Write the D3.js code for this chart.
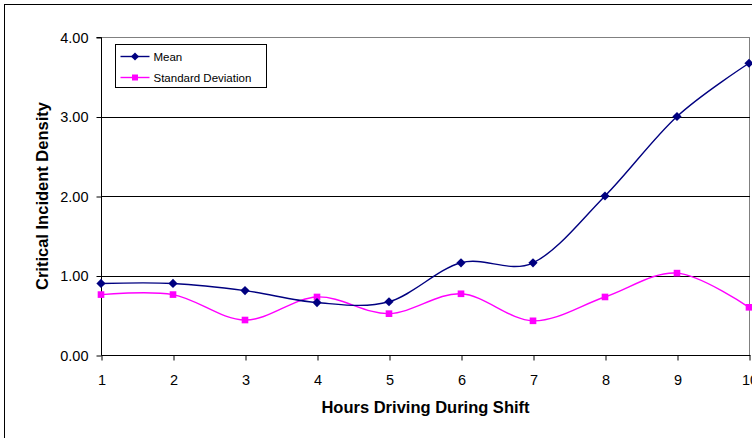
<!DOCTYPE html>
<html>
<head>
<meta charset="utf-8">
<script src="https://cdn.jsdelivr.net/npm/d3@7/dist/d3.min.js"></script>
<style>
  html, body { margin: 0; padding: 0; background: #fff; }
  svg { display: block; font-family: "Liberation Sans", Arial, sans-serif; }
</style>
</head>
<body>
<svg id="chart" width="752" height="438"></svg>
<script>
// Hours of driving within a shift
const hours = [1, 2, 3, 4, 5, 6, 7, 8, 9, 10];
// Critical incident density per hour
const meanValues = [0.90, 0.90, 0.81, 0.66, 0.67, 1.16, 1.16, 2.00, 3.00, 3.67];
const sdValues   = [0.76, 0.76, 0.44, 0.73, 0.52, 0.77, 0.43, 0.73, 1.03, 0.60];
const yTicks = [0, 1, 2, 3, 4];
const seriesNames = ["Mean", "Standard Deviation"];

const svg = d3.select("#chart");
const W = 752, H = 438;
const plot = { left: 101, right: 750, top: 37, bottom: 355 };
const FONT = "'Liberation Sans', Arial, sans-serif";

// Outer chart frame (extends past the right and bottom edges)
svg.append("rect")
  .attr("x", 4.5).attr("y", 4.5)
  .attr("width", 800).attr("height", 500)
  .attr("fill", "#fff").attr("stroke", "#000").attr("stroke-width", 1);

const x = d3.scaleLinear().domain([1, 10]).range([plot.left, plot.right - 1]);
const y = d3.scaleLinear().domain([0, 4]).range([plot.bottom, plot.top]);

// Plot area border
svg.append("rect")
  .attr("x", plot.left + 0.5).attr("y", plot.top + 0.5)
  .attr("width", plot.right - plot.left - 1).attr("height", plot.bottom - plot.top)
  .attr("fill", "#fff").attr("stroke", "#808080").attr("stroke-width", 1);

// Horizontal gridlines
svg.append("g")
  .selectAll("line")
  .data(yTicks.filter(d => d > 0 && d < 4))
  .join("line")
  .attr("x1", plot.left).attr("x2", plot.right)
  .attr("y1", d => Math.round(y(d)) + 0.5).attr("y2", d => Math.round(y(d)) + 0.5)
  .attr("stroke", "#000").attr("stroke-width", 1);

// Y axis
const yAxis = d3.axisLeft(y).tickValues(yTicks).tickSize(5).tickPadding(8)
  .tickFormat(d3.format(".2f"));
const gy = svg.append("g").attr("transform", `translate(${plot.left + 0.5},0.5)`).call(yAxis);
gy.select(".domain").attr("stroke", "#000").attr("d", `M-5,${plot.top}H0V${plot.bottom}`);
gy.selectAll(".tick line").attr("stroke", "#000");
gy.selectAll(".tick text").attr("font-size", 14.5).attr("fill", "#000")
  .attr("font-family", FONT);

// X axis
const xAxis = d3.axisBottom(x).tickValues(hours).tickSize(5).tickPadding(14)
  .tickFormat(d3.format("d"));
const gx = svg.append("g").attr("transform", `translate(0.5,${plot.bottom + 0.5})`).call(xAxis);
gx.select(".domain").attr("stroke", "#000").attr("d", `M${plot.left},0H${plot.right}`);
gx.selectAll(".tick line").attr("stroke", "#000");
gx.selectAll(".tick text").attr("font-size", 14.5).attr("fill", "#000")
  .attr("font-family", FONT);

// Axis titles
svg.append("text")
  .attr("x", (plot.left + plot.right) / 2).attr("y", 413)
  .attr("text-anchor", "middle")
  .attr("font-size", 16.5).attr("font-weight", "bold")
  .attr("font-family", FONT)
  .text("Hours Driving During Shift");

svg.append("text")
  .attr("transform", `translate(48,${(plot.top + plot.bottom) / 2}) rotate(-90)`)
  .attr("text-anchor", "middle")
  .attr("font-size", 16.5).attr("font-weight", "bold")
  .attr("font-family", FONT)
  .text("Critical Incident Density");

// Smoothed series lines
const line = d3.line().curve(d3.curveCardinal.tension(0))
  .x((d, i) => x(hours[i])).y(d => y(d));

const series = [
  { name: seriesNames[0], values: meanValues, color: "#000080", symbol: d3.symbolDiamond2 },
  { name: seriesNames[1], values: sdValues, color: "#FF00FF", symbol: d3.symbolSquare }
];

svg.append("defs").append("clipPath").attr("id", "plotclip")
  .append("rect").attr("x", plot.left - 10).attr("y", 0)
  .attr("width", W - plot.left + 10).attr("height", H);

const marks = svg.append("g").attr("clip-path", "url(#plotclip)");

const symbolPath = (s, big) => s.symbol === d3.symbolSquare
  ? d3.symbol(d3.symbolSquare, big ? 44 : 36)()
  : d3.symbol(d3.symbolDiamond2, big ? 54 : 42)();

// Draw standard deviation first so the mean sits on top
series.slice().reverse().forEach(s => {
  marks.append("path")
    .attr("d", line(s.values))
    .attr("fill", "none").attr("stroke", s.color).attr("stroke-width", 1.4);
});
series.slice().reverse().forEach(s => {
  marks.append("g").selectAll("path")
    .data(s.values)
    .join("path")
    .attr("transform", (d, i) => `translate(${x(hours[i])},${y(d)})`)
    .attr("d", symbolPath(s, true))
    .attr("fill", s.color);
});

// Legend
const lg = svg.append("g").attr("transform", "translate(115.5,44.5)");
lg.append("rect").attr("width", 151).attr("height", 43)
  .attr("fill", "#fff").attr("stroke", "#000").attr("stroke-width", 1);
series.forEach((s, i) => {
  const cy = 12 + i * 21;
  lg.append("line").attr("x1", 5).attr("x2", 34).attr("y1", cy).attr("y2", cy)
    .attr("stroke", s.color).attr("stroke-width", 1.4);
  lg.append("path")
    .attr("transform", `translate(19.5,${cy})`)
    .attr("d", symbolPath(s, false))
    .attr("fill", s.color);
  lg.append("text").attr("x", 38).attr("y", cy + 4)
    .attr("font-size", 11.5).attr("fill", "#000")
    .attr("font-family", FONT)
    .text(s.name);
});
</script>
</body>
</html>
